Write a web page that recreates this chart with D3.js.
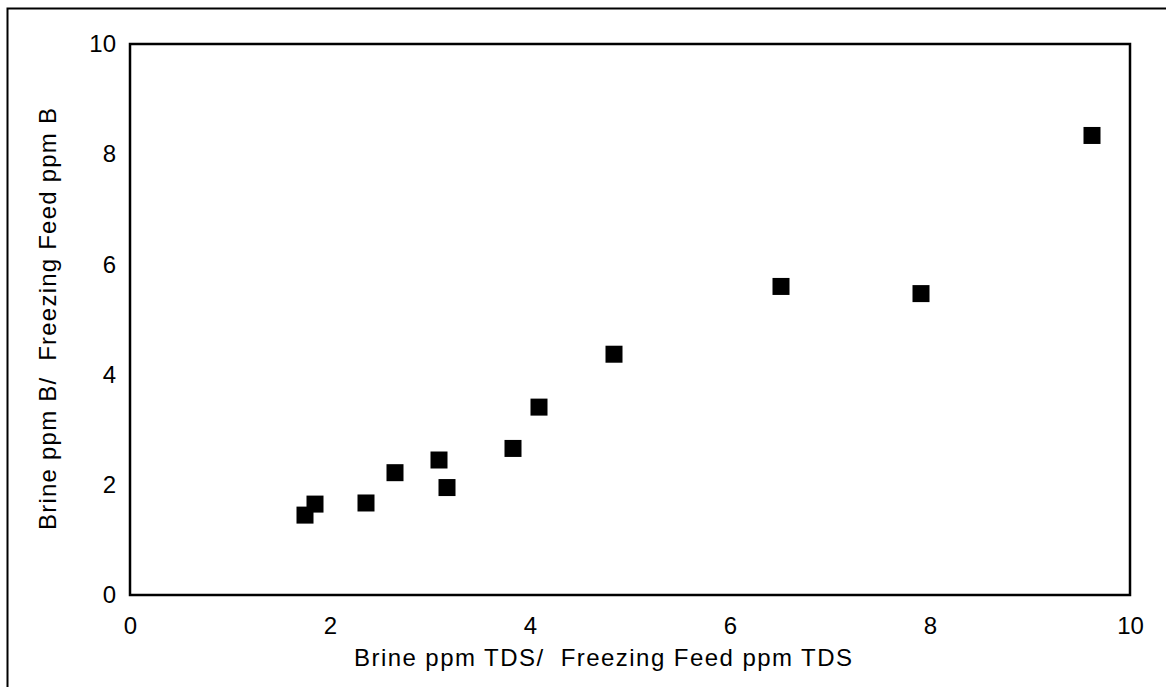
<!DOCTYPE html>
<html>
<head>
<meta charset="utf-8">
<script src="https://cdn.jsdelivr.net/npm/d3@7"></script>
<style>
  html, body { margin: 0; padding: 0; background: #fff; }
  svg { display: block; }
  text { font-family: "Liberation Sans", Arial, Helvetica, sans-serif; fill: #000; }
</style>
</head>
<body>
<svg id="chart" width="1166" height="687"></svg>
<script>
// Brine / freezing-feed concentration ratios
const tdsRatio = [1.75, 1.85, 2.36, 2.65, 3.09, 3.17, 3.83, 4.09, 4.84, 6.51, 7.91, 9.62];
const boronRatio = [1.45, 1.65, 1.67, 2.22, 2.45, 1.95, 2.66, 3.41, 4.37, 5.60, 5.47, 8.34];

const xTicks = [0, 2, 4, 6, 8, 10];
const yTicks = [0, 2, 4, 6, 8, 10];

const xTitle = "Brine ppm TDS/  Freezing Feed ppm TDS";
const yTitle = "Brine ppm B/  Freezing Feed ppm B";

const svg = d3.select("#chart");
const W = 1166, H = 687;
const plot = { left: 130, right: 1130, top: 44, bottom: 595 };

const x = d3.scaleLinear().domain([0, 10]).range([plot.left, plot.right]);
const y = d3.scaleLinear().domain([0, 10]).range([plot.bottom, plot.top]);

// outer frame (top and left edges)
svg.append("path")
  .attr("d", `M7.5,${H} V8.5 H${W}`)
  .attr("fill", "none")
  .attr("stroke", "#000")
  .attr("stroke-width", 2);

// plot frame
svg.append("rect")
  .attr("x", plot.left).attr("y", plot.top)
  .attr("width", plot.right - plot.left)
  .attr("height", plot.bottom - plot.top)
  .attr("fill", "none")
  .attr("stroke", "#000")
  .attr("stroke-width", 2.5);

// axes: labels only, no tick marks
const xAxis = d3.axisBottom(x).tickValues(xTicks).tickSize(0).tickPadding(22).tickFormat(d3.format("d"));
const yAxis = d3.axisLeft(y).tickValues(yTicks).tickSize(0).tickPadding(14).tickFormat(d3.format("d"));

const gx = svg.append("g").attr("transform", `translate(0,${plot.bottom})`).call(xAxis);
const gy = svg.append("g").attr("transform", `translate(${plot.left},0)`).call(yAxis);
[gx, gy].forEach(g => {
  g.select(".domain").remove();
  g.attr("font-family", null).attr("font-size", null);
  g.selectAll("text")
    .attr("font-size", 24)
    .attr("fill", "#000");
});

// axis titles
svg.append("text")
  .attr("x", 603).attr("y", 666)
  .attr("text-anchor", "middle")
  .attr("font-size", 24)
  .attr("textLength", 498)
  .attr("lengthAdjust", "spacing")
  .style("white-space", "pre")
  .text(xTitle);

svg.append("text")
  .attr("transform", `translate(56,319) rotate(-90)`)
  .attr("text-anchor", "middle")
  .attr("font-size", 24)
  .attr("textLength", 422)
  .attr("lengthAdjust", "spacing")
  .style("white-space", "pre")
  .text(yTitle);

// square markers
const S = 17;
svg.append("g")
  .selectAll("rect")
  .data(tdsRatio.map((v, i) => [v, boronRatio[i]]))
  .join("rect")
  .attr("x", d => x(d[0]) - S / 2)
  .attr("y", d => y(d[1]) - S / 2)
  .attr("width", S)
  .attr("height", S)
  .attr("fill", "#000");
</script>
</body>
</html>
